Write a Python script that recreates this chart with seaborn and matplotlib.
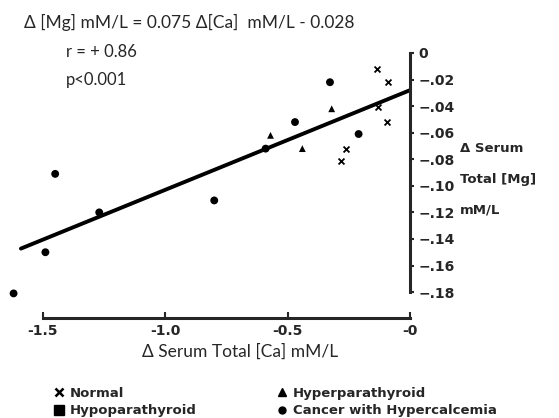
import numpy as np
import pandas as pd
import matplotlib
matplotlib.use("Agg")
import matplotlib.pyplot as plt
import seaborn as sns
from matplotlib.lines import Line2D

# values
normal_ca = [-0.135, -0.09, -0.13, -0.094, -0.26, -0.28]
normal_mg = [-0.012, -0.022, -0.041, -0.052, -0.072, -0.081]

hyper_ca = [-0.32, -0.57, -0.44]
hyper_mg = [-0.042, -0.062, -0.072]

hypo_ca = []
hypo_mg = []

cancer_ca = [-1.62, -1.49, -1.45, -1.27, -0.80, -0.59, -0.327, -0.47, -0.21]
cancer_mg = [-0.181, -0.150, -0.091, -0.120, -0.111, -0.072, -0.022, -0.052, -0.061]

slope = 0.075
intercept = -0.028
fit_ca = [-1.59, 0.0]

y_ticks = [0, -0.02, -0.04, -0.06, -0.08, -0.10, -0.12, -0.14, -0.16, -0.18]
y_ticklabels = ["0", "\u2212.02", "\u2212.04", "\u2212.06", "\u2212.08", "\u2212.10",
                "\u2212.12", "\u2212.14", "\u2212.16", "\u2212.18"]
x_ticks = [-1.5, -1.0, -0.5, 0.0]
x_ticklabels = ["-1.5", "-1.0", "-0.5", "-0"]

df = pd.concat([
    pd.DataFrame({"ca": normal_ca, "mg": normal_mg, "group": "Normal"}),
    pd.DataFrame({"ca": hyper_ca, "mg": hyper_mg, "group": "Hyperparathyroid"}),
    pd.DataFrame({"ca": hypo_ca, "mg": hypo_mg, "group": "Hypoparathyroid"}),
    pd.DataFrame({"ca": cancer_ca, "mg": cancer_mg, "group": "Cancer with Hypercalcemia"}),
], ignore_index=True)

fit = pd.DataFrame({"ca": fit_ca})
fit["mg"] = slope * fit["ca"] + intercept

sns.set_style("white")
plt.rcParams["font.family"] = ["Lato", "DejaVu Sans"]
bold = {"family": "DejaVu Sans", "weight": "bold"}

fig = plt.figure(figsize=(5.59, 4.18), dpi=100)
ax = fig.add_axes([0, 0, 1, 1])
ax.patch.set_alpha(0)

sns.lineplot(data=fit, x="ca", y="mg", color="black", linewidth=2.8, ax=ax)

pts = df[df.group == "Cancer with Hypercalcemia"]
sns.scatterplot(data=pts, x="ca", y="mg", marker="o", color="black", s=32,
                edgecolor="none", ax=ax, legend=False)
pts = df[df.group == "Hyperparathyroid"]
sns.scatterplot(data=pts, x="ca", y="mg", marker="^", color="black", s=24,
                edgecolor="none", ax=ax, legend=False)
pts = df[df.group == "Normal"]
sns.scatterplot(data=pts, x="ca", y="mg", marker="x", color="black", s=18,
                linewidth=1.3, ax=ax, legend=False)

ax.set_xlim(-1.6755, 0.6089)
ax.set_ylim(-0.2748, 0.0399)

for s in ["top", "left"]:
    ax.spines[s].set_visible(False)
ax.spines["right"].set_position(("data", 0))
ax.spines["right"].set_bounds(-0.18, 0)
ax.spines["right"].set_linewidth(2.2)
ax.spines["bottom"].set_position(("data", -0.1995))
ax.spines["bottom"].set_bounds(-1.5, 0)
ax.spines["bottom"].set_linewidth(2.2)

ax.yaxis.tick_right()
ax.set_yticks(y_ticks)
ax.set_yticklabels(y_ticklabels, fontsize=10, **bold)
ax.tick_params(axis="y", direction="out", length=3, width=1.5, pad=3, right=True)
ax.set_xticks(x_ticks)
ax.set_xticklabels(x_ticklabels, fontsize=10, **bold)
ax.tick_params(axis="x", direction="in", length=4, width=1.5, pad=4, bottom=True)
ax.set_xlabel("")
ax.set_ylabel("")


def ftext(px, py, s, **kw):
    fig.text(px / 559, 1 - py / 418, s, va="center", **kw)


ftext(24, 22, "\u0394 [Mg] mM/L = 0.075 \u0394[Ca]  mM/L - 0.028", fontsize=12.5)
ftext(66, 52, "r = + 0.86", fontsize=12)
ftext(66, 80, "p<0.001", fontsize=12)

ftext(460, 148, "\u0394 Serum", fontsize=9.5, **bold)
ftext(460, 180, "Total [Mg]", fontsize=9.5, **bold)
ftext(460, 210, "mM/L", fontsize=9.5, **bold)

ftext(240, 352, "\u0394 Serum Total [Ca] mM/L", fontsize=12.5, ha="center")

handles = [
    Line2D([], [], marker="x", color="black", linestyle="none", markersize=6, markeredgewidth=1.8),
    Line2D([], [], marker="s", color="black", linestyle="none", markersize=7),
    Line2D([], [], marker="^", color="black", linestyle="none", markersize=5.5),
    Line2D([], [], marker="o", color="black", linestyle="none", markersize=5),
]
labels = ["Normal", "Hypoparathyroid", "Hyperparathyroid", "Cancer with Hypercalcemia"]
fig.legend(handles, labels, ncol=2, loc="upper left", bbox_to_anchor=(46 / 559, 1 - 380 / 418),
           frameon=False, prop={"family": "DejaVu Sans", "weight": "bold", "size": 9.5},
           handletextpad=0.3, handlelength=1.0, columnspacing=6.0, labelspacing=0.35,
           borderpad=0)

fig.savefig("out.png", dpi=100)
